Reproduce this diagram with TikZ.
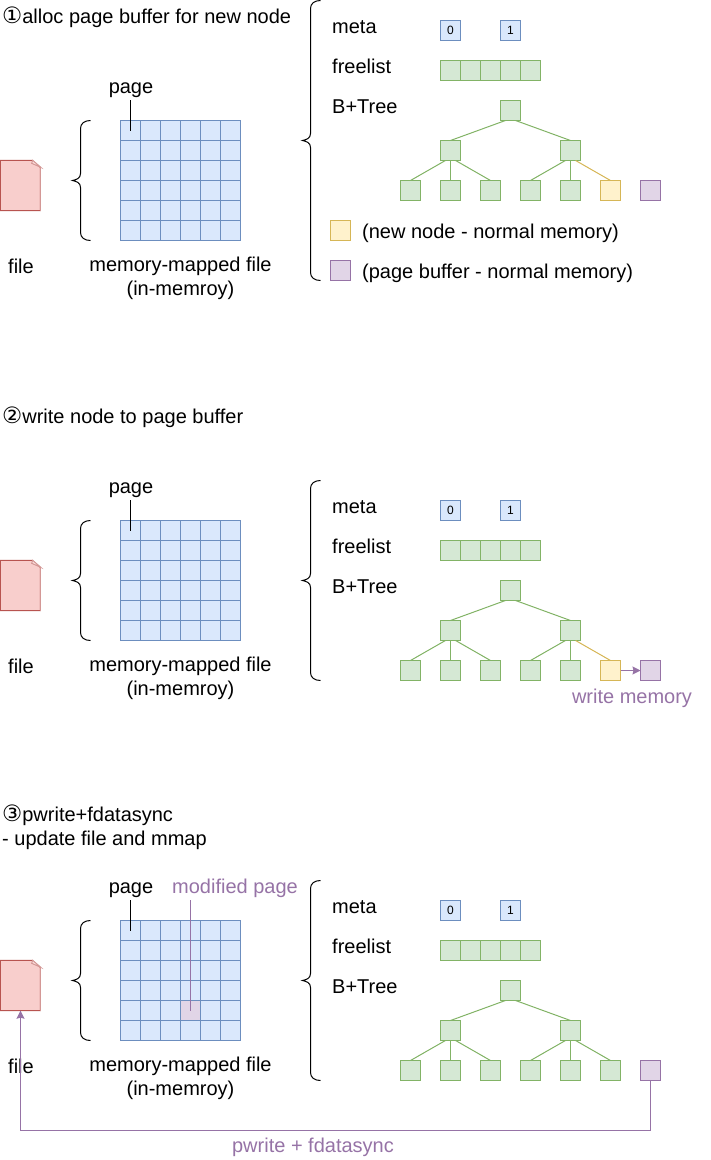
\documentclass[tikz,border=0pt]{standalone}
\usepackage{fontspec}
\setmainfont{Liberation Sans}
\newfontfamily\symfont{DejaVu Sans}
\newcommand{\circnum}[1]{{\symfont\fontsize{22.5}{24}\selectfont #1}}
\usetikzlibrary{positioning, arrows.meta, calc}
\definecolor{bluefill}{HTML}{DAE8FC}
\definecolor{blueline}{HTML}{6C8EBF}
\definecolor{greenfill}{HTML}{D5E8D4}
\definecolor{greenline}{HTML}{82B366}
\definecolor{yellowfill}{HTML}{FFF2CC}
\definecolor{yellowline}{HTML}{D6B656}
\definecolor{purplefill}{HTML}{E1D5E7}
\definecolor{purpleline}{HTML}{9673A6}
\definecolor{redfill}{HTML}{F8CECC}
\definecolor{redline}{HTML}{B85450}
\tikzset{
  cellbox/.style={
    draw,
    rectangle,
    line width=1pt,
    minimum width=20pt,
    minimum height=20pt,
    inner sep=0pt,
    outer sep=0pt,
    font=\fontsize{12}{14}\selectfont
  },
  bluebox/.style={cellbox, draw=blueline, fill=bluefill},
  greenbox/.style={cellbox, draw=greenline, fill=greenfill},
  yellowbox/.style={cellbox, draw=yellowline, fill=yellowfill},
  purplebox/.style={cellbox, draw=purpleline, fill=purplefill},
  modbox/.style={cellbox, draw=blueline, fill=purplefill},
  label/.style={inner sep=0pt, font=\fontsize{20}{24}\selectfont, align=center},
  oneline/.style={label, text height=15pt, text depth=3pt},
  leftlabel/.style={oneline, anchor=west},
  purplelabel/.style={oneline, text=purpleline},
  greenedge/.style={draw=greenline, line width=1pt},
  yellowedge/.style={draw=yellowline, line width=1pt},
  purplearrow/.style={draw=purpleline, line width=1pt, -{Stealth[length=8pt,width=8pt,inset=1pt]}},
  bracket/.style={
    draw=black,
    line width=1pt,
    to path={
      (\tikztostart) .. controls +(-6,0) and +(0,-5) .. ($(\tikztostart)+(-10,8)$)
      -- ($(\tikztostart)!.5!(\tikztotarget)+(-10,-7)$)
      .. controls +(0,5) and +(4,-1) .. ($(\tikztostart)!.5!(\tikztotarget)+(-18,0)$)
      .. controls +(4,1) and +(0,-5) .. ($(\tikztostart)!.5!(\tikztotarget)+(-10,7)$)
      -- ($(\tikztotarget)+(-10,-8)$)
      .. controls +(0,5) and +(-6,0) .. (\tikztotarget)
    }
  },
  pics/filepanel/.style={code={
    \node (file) [minimum width=40pt, minimum height=50pt, inner sep=0pt] at (20.5,185.5) {};
    \draw[fill=redfill, draw=redline, line width=1pt] (file.north west) -- ++(32,0) -- ++(8,7) |- (file.south west) -- cycle;
    \draw[draw=redline!60, line width=1.5pt] (file.north east) ++(0,7) -- (file.south east);
    \draw[draw=redline!60, fill=redfill!70, line width=1pt] (file.north east) ++(-8,0) -- ++(-1,3) -- ++(9,4) -- cycle;
    \node[oneline] (filetext) at (21,267) {file};
    \foreach \c in {0,...,5}
      \foreach \r in {0,...,5}
        \node[bluebox] (cell\c\r) at (130.5+20*\c,130.5+20*\r) {};
    \node[oneline] (page) at (131,87.5) {page};
    \coordinate (pagetop) at (130.5,100);
    \draw[line width=1pt] (pagetop) -- (cell00.center);
    \node[label] (maptext) at (180.5,278) {memory-mapped file\\(in-memroy)};
    \coordinate (gridtop) at (90.5,120.5);
    \coordinate (gridbot) at (90.5,240.5);
    \draw[bracket] (gridtop) to (gridbot);
  }},
  pics/treepanel/.style 2 args={code={
    \node[leftlabel] (meta) at (332,27) {meta};
    \node[leftlabel] (freelist) at (332,67) {freelist};
    \node[leftlabel] (bptree) at (332,107) {B+Tree};
    \node[bluebox] (meta0) at (450.5,30.5) {0};
    \node[bluebox] (meta1) at (510.5,30.5) {1};
    \foreach \c in {0,...,4}
      \node[greenbox] (free\c) at (450.5+20*\c,70.5) {};
    \node[greenbox] (root) at (510.5,110.5) {};
    \node[greenbox] (midl) at (450.5,150.5) {};
    \node[greenbox] (midr) at (570.5,150.5) {};
    \node[greenbox] (leaf1) at (410.5,190.5) {};
    \node[greenbox] (leaf2) at (450.5,190.5) {};
    \node[greenbox] (leaf3) at (490.5,190.5) {};
    \node[greenbox] (leaf4) at (530.5,190.5) {};
    \node[greenbox] (leaf5) at (570.5,190.5) {};
    \node[#1] (leaf6) at (610.5,190.5) {};
    \node[purplebox] (leaf7) at (650.5,190.5) {};
    \draw[greenedge] (root.243) -- (midl.north);
    \draw[greenedge] (root.297) -- (midr.north);
    \draw[greenedge] (midl.243) -- (leaf1.north);
    \draw[greenedge] (midl.south) -- (leaf2.north);
    \draw[greenedge] (midl.297) -- (leaf3.north);
    \draw[greenedge] (midr.243) -- (leaf4.north);
    \draw[greenedge] (midr.south) -- (leaf5.north);
    \draw[#2] (midr.297) -- (leaf6.north);
  }}
}
\begin{document}
\begin{tikzpicture}[x=1pt, y=-1pt]
    \useasboundingbox (0,0) rectangle (711,1160);

    \node[leftlabel] (title1) at (2,17.5) {\circnum{①}alloc page buffer for new node};
    \pic (one) at (0,0) {filepanel};
    \pic (onetree) at (0,0) {treepanel={yellowbox}{yellowedge}};
    \coordinate (onetop) at (320.5,0.5);
    \coordinate (onebot) at (320.5,280.5);
    \draw[bracket] (onetop) to (onebot);
    \node[yellowbox] (newkey) at (340.5,230.5) {};
    \node[purplebox] (bufkey) at (340.5,270.5) {};
    \node[leftlabel] (newtext) at (362,232) {(new node - normal memory)};
    \node[leftlabel] (buftext) at (362,272) {(page buffer - normal memory)};

    \node[leftlabel] (title2) at (2,417) {\circnum{②}write node to page buffer};
    \pic (two) at (0,400) {filepanel};
    \pic (twotree) at (0,480) {treepanel={yellowbox}{yellowedge}};
    \coordinate (twotop) at (320.5,480.5);
    \coordinate (twobot) at (320.5,680.5);
    \draw[bracket] (twotop) to (twobot);
    \draw[purplearrow] (twotreeleaf6.east) -- (twotreeleaf7.west);
    \node[purplelabel] (writemem) at (632,697) {write memory};

    \node[label, anchor=west, align=left] (title3) at (2,827) {\circnum{③}pwrite+fdatasync\\- update file and mmap};
    \pic (three) at (0,800) {filepanel};
    \pic (threetree) at (0,880) {treepanel={greenbox}{greenedge}};
    \coordinate (threetop) at (320.5,880.5);
    \coordinate (threebot) at (320.5,1080.5);
    \draw[bracket] (threetop) to (threebot);
    \node[modbox] (modcell) at (threecell34) {};
    \node[purplelabel] (modpage) at (235,887.5) {modified page};
    \coordinate (modtop) at (190.5,900);
    \draw[draw=purpleline, line width=1pt] (modtop) -- (modcell.center);
    \coordinate (syncturn) at (20.5,1130.5);
    \draw[purplearrow] (threetreeleaf7.south) |- (syncturn) -- (threefile.south);
    \node[purplelabel] (synctext) at (313,1146) {pwrite + fdatasync};
\end{tikzpicture}
\end{document}
